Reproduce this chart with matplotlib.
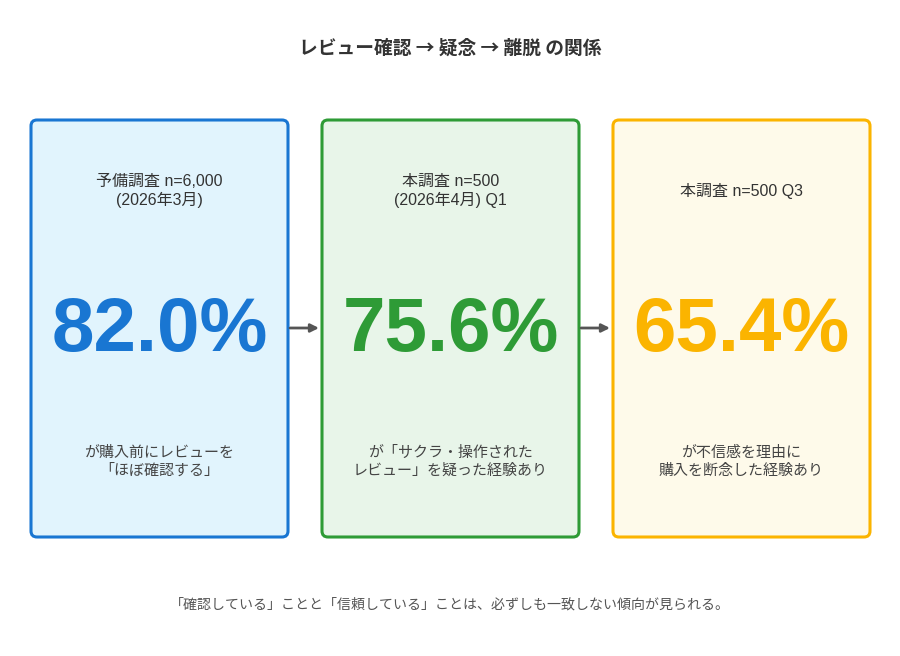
import matplotlib
matplotlib.use('Agg')
import matplotlib.pyplot as plt
from matplotlib.patches import FancyBboxPatch

plt.rcParams['font.family'] = ['Liberation Sans', 'Noto Sans CJK JP', 'DejaVu Sans']

title = 'レビュー確認 → 疑念 → 離脱 の関係'
headers = ['予備調査 n=6,000\n(2026年3月)', '本調査 n=500\n(2026年4月) Q1', '本調査 n=500 Q3']
values = [82.0, 75.6, 65.4]
descs = ['が購入前にレビューを\n「ほぼ確認する」',
         'が「サクラ・操作された\nレビュー」を疑った経験あり',
         'が不信感を理由に\n購入を断念した経験あり']
footer = '「確認している」ことと「信頼している」ことは、必ずしも一致しない傾向が見られる。'

edge_colors = ['#1976D2', '#2E9B36', '#FBB400']
fill_colors = ['#E1F4FD', '#E8F5E9', '#FEFAEA']

fig = plt.figure(figsize=(9, 6.56), dpi=100)
ax = fig.add_axes([0, 0, 1, 1])
ax.set_xlim(0, 900)
ax.set_ylim(656, 0)
ax.axis('off')

ax.text(450, 48, title, ha='center', va='center', fontsize=13.5, fontweight='bold',
        color='#333333', family=['Noto Sans CJK JP', 'DejaVu Sans'])

box_w, box_h = 257, 417
x0s = [31, 322, 613]
y0 = 120
for i, x0 in enumerate(x0s):
    box = FancyBboxPatch((x0 + 6, y0 + 6), box_w - 12, box_h - 12,
                         boxstyle='round,pad=6', facecolor=fill_colors[i],
                         edgecolor=edge_colors[i], linewidth=2.2)
    ax.add_patch(box)
    cx = x0 + box_w / 2
    ax.text(cx, 191, headers[i], ha='center', va='center', fontsize=11.5,
            color='#333333', linespacing=1.25)
    ax.text(cx, 331, f'{values[i]:.1f}%', ha='center', va='center', fontsize=55,
            fontweight='bold', color=edge_colors[i])
    ax.text(cx, 462, descs[i], ha='center', va='center', fontsize=10.8,
            color='#444444', linespacing=1.3)

for i in range(2):
    xs = x0s[i] + box_w + 2
    xe = x0s[i + 1] - 3
    ax.annotate('', xy=(xe, 328), xytext=(xs, 328),
                arrowprops=dict(arrowstyle='-|>', color='#555555', lw=2,
                                mutation_scale=12, shrinkA=0, shrinkB=0))

ax.text(450, 604, footer, ha='center', va='center', fontsize=10.1, color='#555555')

fig.savefig('out.png', dpi=100, facecolor='white')
